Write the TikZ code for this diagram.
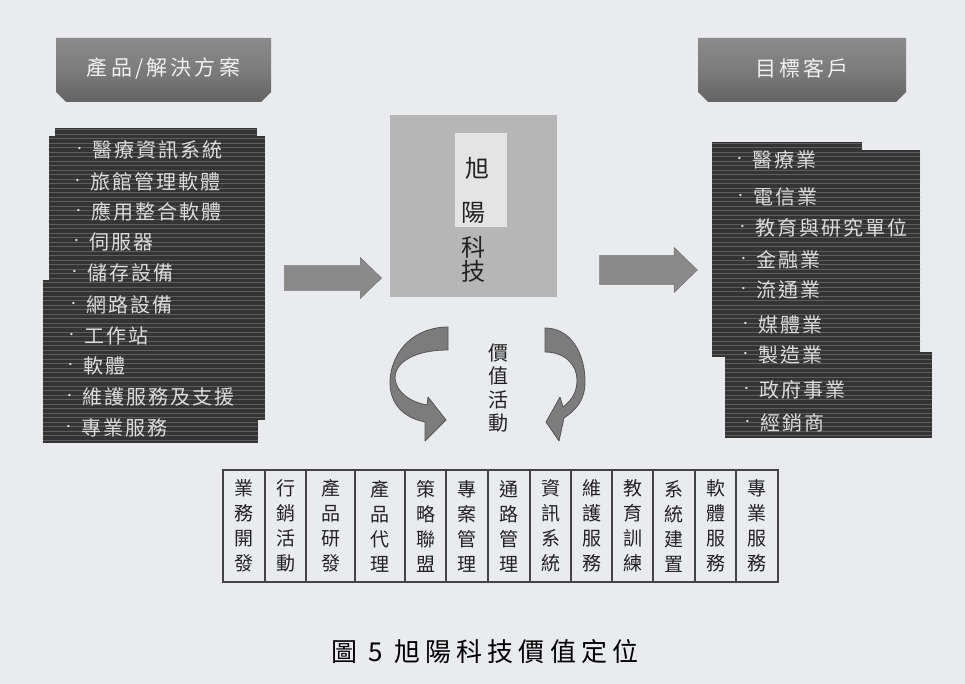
\documentclass[tikz,border=0pt]{standalone}
\usepackage{fontspec}
\setmainfont{Noto Sans CJK TC}
\newfontfamily\dejavu{DejaVu Sans}
\usetikzlibrary{shapes.arrows}
\definecolor{bg}{HTML}{E9EBEF}
\definecolor{boxdark}{HTML}{343434}
\definecolor{scan}{HTML}{5E5E5E}
\definecolor{itemtxt}{HTML}{DCDCDC}
\definecolor{hdrtop}{HTML}{8A8A8A}
\definecolor{hdrbot}{HTML}{636363}
\definecolor{coregray}{HTML}{B6B6B6}
\definecolor{coreinner}{HTML}{E4E4E4}
\definecolor{arrgray}{HTML}{8A8A8A}
\definecolor{curvegray}{HTML}{7C7C7C}
\definecolor{linegray}{HTML}{444444}
\definecolor{txtdark}{HTML}{222222}
\newcommand\bulitem{\makebox[15pt][l]{\raisebox{6.5pt}{\dejavu\fontsize{8}{8}\selectfont•}}}
\begin{document}
\begin{tikzpicture}[x=1pt,y=-1pt,
  hdrshape/.style={top color=hdrtop, bottom color=hdrbot, middle color=hdrtop!90!black},
  hdrtext/.style={inner sep=0pt, text=white!94!black,
    font=\fontsize{21}{21}\selectfont\addfontfeature{LetterSpace=15}},
  litem/.style={anchor=west, inner sep=0pt, text=itemtxt,
    font=\fontsize{20}{20}\selectfont\addfontfeature{LetterSpace=10}},
  blockarrow/.style={single arrow, fill=arrgray, draw=arrgray!80!black, line width=0.4pt,
    inner sep=0pt, single arrow tip angle=88},
  curvearrow/.style={fill=curvegray, draw=curvegray!70!black, line width=0.8pt, line join=round},
  cell/.style={draw=linegray, line width=1.3pt, inner sep=0pt, minimum height=112pt,
    align=center, text=txtdark, font=\fontsize{19}{25}\selectfont},
  corechar/.style={inner sep=0pt, text=txtdark, font=\fontsize{24}{24}\selectfont},
  scanline/.style={draw=scan, line width=0.7pt}
]
\useasboundingbox[fill=bg] (0,0) rectangle (965,684);

% headers
\path[hdrshape] (56,38) -- (271,38) -- (271,92) -- (261,102) -- (66,102) -- (56,92) -- cycle;
\path[hdrshape] (698,38) -- (906,38) -- (906,92) -- (896,102) -- (708,102) -- (698,92) -- cycle;
\node[hdrtext] (hl) at (163.5,68) {產品/解決方案};
\node[hdrtext] (hr) at (802,68) {目標客戶};

% left list box
\fill[boxdark] (55,128) rectangle (257,250);
\fill[boxdark] (49,136) rectangle (265,420);
\fill[boxdark] (43,280) rectangle (258,443);
% right list box
\fill[boxdark] (712,142) rectangle (862,165);
\fill[boxdark] (712,150) rectangle (920,357);
\fill[boxdark] (725,352) rectangle (932,438);
\begin{scope}
  \clip (55,128) rectangle (257,250) (49,136) rectangle (265,420) (43,280) rectangle (258,443)
        (712,142) rectangle (862,165) (712,150) rectangle (920,357) (725,352) rectangle (932,438);
  \foreach \yy in {129.5,134,...,445} {
    \draw[scanline] (40,\yy) -- (270,\yy);
    \draw[scanline] (705,\yy) -- (935,\yy);
  }
\end{scope}

% left items
\node[litem] (p1) at (77,150) {\bulitem 醫療資訊系統};
\node[litem] (p2) at (75,182) {\bulitem 旅館管理軟體};
\node[litem] (p3) at (76,212) {\bulitem 應用整合軟體};
\node[litem] (p4) at (74,242) {\bulitem 伺服器};
\node[litem] (p5) at (72,273) {\bulitem 儲存設備};
\node[litem] (p6) at (71,305) {\bulitem 網路設備};
\node[litem] (p7) at (69,336) {\bulitem 工作站};
\node[litem] (p8) at (68,366) {\bulitem 軟體};
\node[litem] (p9) at (67,397) {\bulitem 維護服務及支援};
\node[litem] (p10) at (66,428) {\bulitem 專業服務};

% right items
\node[litem] (c1) at (737,160) {\bulitem 醫療業};
\node[litem] (c2) at (738,197) {\bulitem 電信業};
\node[litem] (c3) at (740,228) {\bulitem 教育與研究單位};
\node[litem] (c4) at (741,260) {\bulitem 金融業};
\node[litem] (c5) at (741,290) {\bulitem 流通業};
\node[litem] (c6) at (743,325) {\bulitem 媒體業};
\node[litem] (c7) at (743,355) {\bulitem 製造業};
\node[litem] (c8) at (744,390) {\bulitem 政府事業};
\node[litem] (c9) at (745,423) {\bulitem 經銷商};

% core box
\node[fill=coregray, minimum width=167pt, minimum height=182pt, inner sep=0pt] (core) at (473.5,206) {};
\node[fill=coreinner, minimum width=52pt, minimum height=94pt, inner sep=0pt] (coreinner) at (481,180) {};
\node[corechar] (k1) at (477,168) {旭};
\node[corechar] (k2) at (473,213) {陽};
\node[corechar] (k3) at (473,247) {科};
\node[corechar] (k4) at (473,271) {技};

% block arrows
\node[blockarrow, minimum height=97pt, minimum width=41pt, inner ysep=11.5pt] (a1) at (326.5,278) {};
\node[blockarrow, minimum height=98pt, minimum width=45pt, inner ysep=12.5pt] (a2) at (641,270) {};

% curved arrows
\path[curvearrow] (448,327) .. controls (415,327) and (392,350) .. (390,380)
  .. controls (389,405) and (405,418) .. (425,422) -- (425,441) -- (446,420) -- (428,397)
  -- (427,405) .. controls (410,402) and (396,392) .. (395,378)
  .. controls (395,362) and (415,350) .. (448,350) -- cycle;
\path[curvearrow] (545,328) .. controls (570,328) and (585,352) .. (585,382)
  .. controls (585,400) and (576,410) .. (564,418) -- (559,441) -- (546,422) -- (560,397)
  -- (563,407) .. controls (572,400) and (577,392) .. (577,380)
  .. controls (577,365) and (565,352) .. (545,352) -- cycle;

% value activities
\node[inner sep=0pt, align=center, text=txtdark, font=\fontsize{20}{23.5}\selectfont] (va) at (498,388) {價\\值\\活\\動};

% table
\node[cell, minimum width=42pt] (t1) at (244,526) {業\\務\\開\\發};
\node[cell, minimum width=41pt] (t2) at (285.5,526) {行\\銷\\活\\動};
\node[cell, minimum width=49pt] (t3) at (330.5,526) {產\\品\\研\\發};
\node[cell, minimum width=50pt] (t4) at (380,526) {產\\品\\代\\理};
\node[cell, minimum width=41pt] (t5) at (425.5,526) {策\\略\\聯\\盟};
\node[cell, minimum width=42pt] (t6) at (467,526) {專\\案\\管\\理};
\node[cell, minimum width=42pt] (t7) at (509,526) {通\\路\\管\\理};
\node[cell, minimum width=41pt] (t8) at (550.5,526) {資\\訊\\系\\統};
\node[cell, minimum width=41pt] (t9) at (591.5,526) {維\\護\\服\\務};
\node[cell, minimum width=41pt] (t10) at (632.5,526) {教\\育\\訓\\練};
\node[cell, minimum width=42pt] (t11) at (674,526) {系\\統\\建\\置};
\node[cell, minimum width=41pt] (t12) at (715.5,526) {軟\\體\\服\\務};
\node[cell, minimum width=42pt] (t13) at (757,526) {專\\業\\服\\務};

% caption
\node[inner sep=0pt, text=black, font=\fontsize{26}{26}\selectfont\addfontfeature{LetterSpace=20}] (cap) at (485,652) {圖 5 旭陽科技價值定位};
\end{tikzpicture}
\end{document}
